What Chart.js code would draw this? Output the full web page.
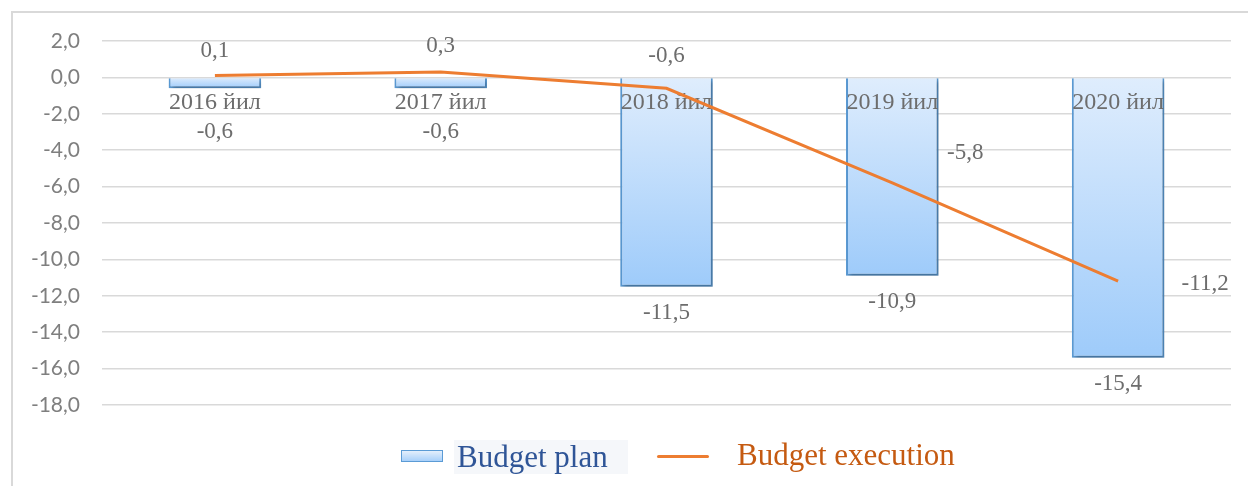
<!DOCTYPE html>
<html>
<head>
<meta charset="utf-8">
<script src="https://cdn.jsdelivr.net/npm/chart.js@4.4.1/dist/chart.umd.min.js"></script>
<style>
  body { margin: 0; background: #fff; }
  #wrap { position: relative; width: 1248px; height: 486px; overflow: hidden; }
  #frame { position: absolute; left: 11px; top: 11px; right: -4px; bottom: -4px;
           border-left: 2px solid #d9d9d9; border-top: 2px solid #d9d9d9; }
  .box { position: absolute; left: 401px; top: 450px; width: 40px; height: 10px;
         border: 1.5px solid #5b9bd5; background: linear-gradient(#e4effc, #a8d0fa); }
  .txt { position: absolute; font-family: "Liberation Serif", "Times New Roman", serif;
         font-size: 31px; line-height: 34px; white-space: nowrap; }
  .plan { left: 454px; top: 440px; padding: 0 20px 0 3px; background: #f5f7fa; color: #2f5597; }
  .lineMark { position: absolute; left: 657px; top: 455px; width: 52px; height: 3px;
              background: #ed7d31; border-radius: 2px; }
  .exec { left: 737px; top: 438px; color: #c55a11; }
</style>
</head>
<body>
<div id="wrap">
  <div id="frame"></div>
  <canvas id="chart" width="1248" height="486"></canvas>
  <div class="box"></div>
  <div class="txt plan">Budget plan</div>
  <div class="lineMark"></div>
  <div class="txt exec">Budget execution</div>
</div>
<script>
// budget balance, bln
var years = ['2016 йил', '2017 йил', '2018 йил', '2019 йил', '2020 йил'];
var budgetPlan = [-0.6, -0.6, -11.5, -10.9, -15.4];
var budgetExecution = [0.1, 0.3, -0.6, -5.8, -11.2];
var yTicks = [2, 0, -2, -4, -6, -8, -10, -12, -14, -16, -18];

// where the execution labels sit relative to their point (dx, dy)
var execLabelShift = [[0, -25], [0, -26], [0, -32], [73, -30], [87, 3]];

function fmt(v) {
  return v.toFixed(1).replace('.', ',');
}

var serif = '"Liberation Serif", "Times New Roman", serif';
var labelColor = '#6d6d6d';

// bars get a soft drop shadow, then the category names go on top of them
// (the line is drawn afterwards, over the names)
var barDecor = {
  id: 'barDecor',
  beforeDatasetDraw: function(chart, args) {
    if (args.meta.type !== 'bar') return;
    var c = chart.ctx;
    c.save();
    c.shadowColor = 'rgba(0,0,0,0.28)';
    c.shadowBlur = 4;
    c.shadowOffsetX = 2;
    c.shadowOffsetY = 3;
  },
  afterDatasetDraw: function(chart, args) {
    if (args.meta.type !== 'bar') return;
    var c = chart.ctx;
    c.restore();

    var x = chart.scales.x;
    var zero = chart.scales.y.getPixelForValue(0);
    c.save();
    c.font = '24px ' + serif;
    c.fillStyle = labelColor;
    c.textAlign = 'center';
    c.textBaseline = 'middle';
    years.forEach(function(name, i) {
      c.fillText(name, x.getPixelForValue(i), zero + 25);
    });
    c.restore();
  }
};

var valueLabels = {
  id: 'valueLabels',
  afterDatasetsDraw: function(chart) {
    var c = chart.ctx;
    var zero = chart.scales.y.getPixelForValue(0);
    c.save();
    c.font = '23px ' + serif;
    c.fillStyle = labelColor;
    c.textBaseline = 'middle';
    c.textAlign = 'center';

    // plan values under the bar ends
    chart.getDatasetMeta(1).data.forEach(function(bar, i) {
      var ly = Math.max(bar.y + 26, zero + 55);
      c.fillText(fmt(budgetPlan[i]), bar.x, ly);
    });

    // execution values next to the line points
    chart.getDatasetMeta(0).data.forEach(function(pt, i) {
      var s = execLabelShift[i];
      c.fillText(fmt(budgetExecution[i]), pt.x + s[0], pt.y + s[1]);
    });
    c.restore();
  }
};

function planFill(ctx) {
  var chart = ctx.chart;
  if (!chart.chartArea || ctx.type !== 'data') return '#c6e0fb';
  var y = chart.scales.y;
  var top = y.getPixelForValue(0);
  var bottom = y.getPixelForValue(ctx.raw);
  if (bottom - top < 1) bottom = top + 1;
  var g = chart.ctx.createLinearGradient(0, top, 0, bottom);
  g.addColorStop(0, '#dfedfd');
  g.addColorStop(1, '#9ecbfa');
  return g;
}

new Chart(document.getElementById('chart'), {
  type: 'bar',
  data: {
    labels: years,
    datasets: [
      {
        type: 'line',
        label: 'Budget execution',
        data: budgetExecution,
        borderColor: '#ed7d31',
        borderWidth: 3,
        pointRadius: 0,
        tension: 0,
        order: 0
      },
      {
        type: 'bar',
        label: 'Budget plan',
        data: budgetPlan,
        backgroundColor: planFill,
        borderColor: '#5b9bd5',
        borderWidth: 2,
        barPercentage: 0.41,
        categoryPercentage: 1,
        order: 1
      }
    ]
  },
  options: {
    responsive: false,
    animation: false,
    devicePixelRatio: 1,
    layout: { padding: { top: 41, bottom: 81, right: 17, left: 0 } },
    plugins: {
      legend: { display: false },
      tooltip: { enabled: false }
    },
    scales: {
      x: {
        position: { y: 0 },
        grid: { display: false },
        border: { display: false },
        ticks: { display: false }
      },
      y: {
        min: -18,
        max: 2,
        afterFit: function(s) { s.width = 102; },
        afterBuildTicks: function(s) {
          s.ticks = yTicks.map(function(v) { return { value: v }; });
        },
        grid: { color: '#d9d9d9', lineWidth: 1.5, drawTicks: false },
        border: { display: false },
        ticks: {
          padding: 22,
          color: '#7f7f7f',
          font: { family: 'Lato, "Open Sans", sans-serif', size: 21 },
          callback: function(v) { return fmt(v); }
        }
      }
    }
  },
  plugins: [barDecor, valueLabels]
});
</script>
</body>
</html>
